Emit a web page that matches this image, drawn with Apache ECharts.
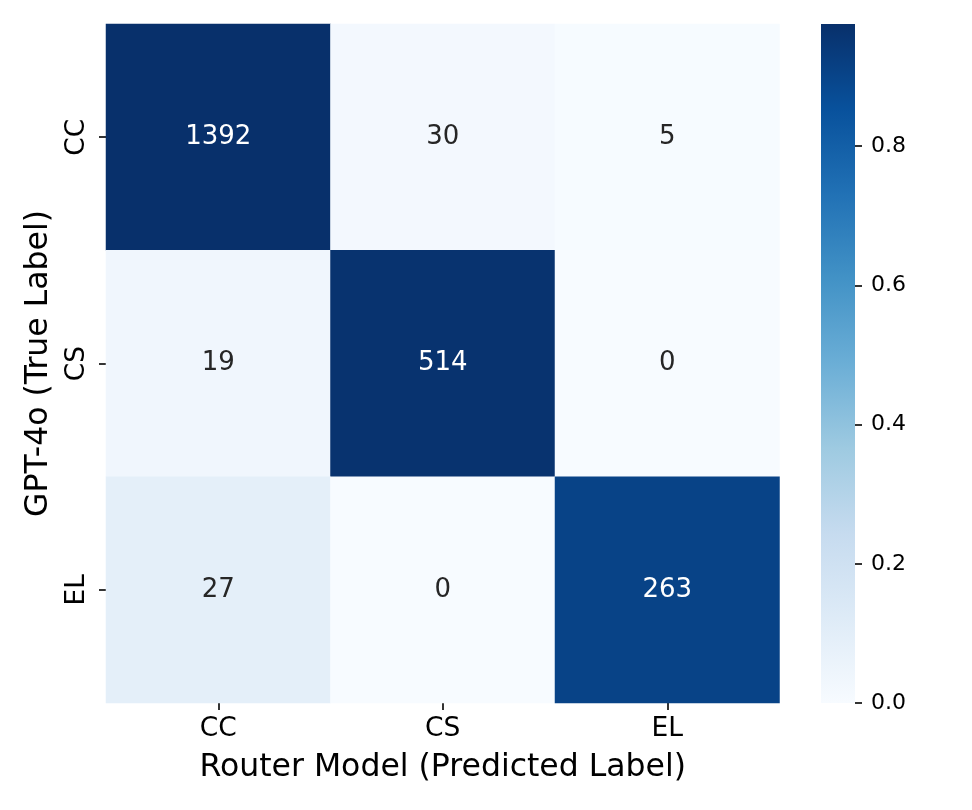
<!DOCTYPE html>
<html>
<head>
<meta charset="utf-8">
<script src="https://cdn.jsdelivr.net/npm/echarts@6/dist/echarts.min.js"></script>
<style>
html,body{margin:0;padding:0;background:#fff;}
#main{width:972px;height:810px;}
</style>
</head>
<body>
<div id="main"></div>
<script>
// ---- data ----
const predictedLabels = ['CC', 'CS', 'EL'];   // x axis (columns)
const trueLabels = ['CC', 'CS', 'EL'];        // y axis (rows)
const rowCC = [1392, 30, 5];
const rowCS = [19, 514, 0];
const rowEL = [27, 0, 263];
const colorbarTicks = [0, 0.2, 0.4, 0.6, 0.8];
const blues = ['#f7fbff', '#deebf7', '#c6dbef', '#9ecae1', '#6baed6', '#4292c6', '#2171b5', '#08519c', '#08306b'];

// ---- build ----
const rows = [rowCC, rowCS, rowEL];
const FONT = 'DejaVu Sans';
let vmax = 0;
const cells = [];
rows.forEach((row, ri) => {
  const total = row.reduce((a, b) => a + b, 0);
  row.forEach((count, ci) => {
    const frac = count / total;
    if (frac > vmax) vmax = frac;
    cells.push({ri, ci, frac, count});
  });
});
const heatData = cells.map(c => ({
  value: [c.ci, c.ri, c.frac, c.count],
  label: { color: (c.frac / vmax) > 0.5 ? '#ffffff' : '#262626' }
}));

const chart = echarts.init(document.getElementById('main'), null, {renderer: 'canvas'});
const gradStops = blues.map((c, i) => ({offset: i / (blues.length - 1), color: c}));

chart.setOption({
  animation: false,
  backgroundColor: '#ffffff',
  grid: [
    {left: 106, top: 24, width: 673.5, height: 679, containLabel: false},
    {left: 821, top: 24, width: 34, height: 679, containLabel: false}
  ],
  xAxis: [
    {
      gridIndex: 0, type: 'category', data: predictedLabels, position: 'bottom',
      axisLine: {show: false},
      axisTick: {show: true, alignWithLabel: true, length: 7, lineStyle: {color: '#000', width: 1.6}},
      axisLabel: {fontFamily: FONT, fontSize: 26.5, color: '#000', margin: 13},
      splitLine: {show: false},
      name: 'Router Model (Predicted Label)', nameLocation: 'middle', nameGap: 49,
      nameTextStyle: {fontFamily: FONT, fontSize: 31.5, color: '#000'}
    },
    {
      gridIndex: 1, type: 'category', data: [''], show: false
    }
  ],
  yAxis: [
    {
      gridIndex: 0, type: 'category', data: trueLabels, inverse: true, position: 'left',
      axisLine: {show: false},
      axisTick: {show: true, alignWithLabel: true, length: 7, lineStyle: {color: '#000', width: 1.6}},
      axisLabel: {fontFamily: FONT, fontSize: 26.5, color: '#000', margin: 15, rotate: 90},
      splitLine: {show: false},
      name: 'GPT-4o (True Label)', nameLocation: 'middle', nameGap: 51,
      nameTextStyle: {fontFamily: FONT, fontSize: 31.5, color: '#000'}
    },
    {
      gridIndex: 1, type: 'value', min: 0, max: vmax, position: 'right',
      axisLine: {show: false},
      axisTick: {show: true, length: 7, customValues: colorbarTicks, lineStyle: {color: '#000', width: 1.6}},
      axisLabel: {fontFamily: FONT, fontSize: 22, color: '#000', margin: 16, customValues: colorbarTicks,
        formatter: v => v.toFixed(1)},
      splitLine: {show: false}
    }
  ],
  visualMap: {
    show: false, type: 'continuous', min: 0, max: vmax, dimension: 2, seriesIndex: 0,
    inRange: {color: blues}
  },
  series: [
    {
      type: 'heatmap', xAxisIndex: 0, yAxisIndex: 0, data: heatData,
      label: {show: true, fontFamily: FONT, fontSize: 26, formatter: p => String(p.value[3])},
      emphasis: {disabled: true}
    },
    {
      type: 'bar', xAxisIndex: 1, yAxisIndex: 1, data: [vmax], barWidth: '100%',
      itemStyle: {color: new echarts.graphic.LinearGradient(0, 1, 0, 0, gradStops)},
      silent: true
    }
  ]
});
</script>
</body>
</html>
